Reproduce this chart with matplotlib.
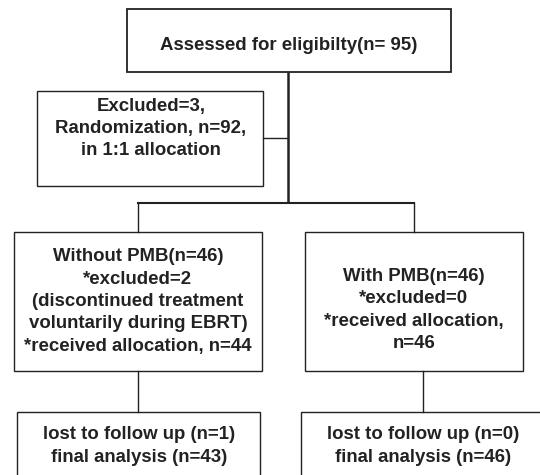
import matplotlib
matplotlib.use('Agg')
from matplotlib import pyplot as plt
from matplotlib.patches import Rectangle

# texts of the flow chart boxes
assessed_text = 'Assessed for eligibilty(n= 95)'
excluded_text = 'Excluded=3,\nRandomization, n=92,\nin 1:1 allocation'
arm_texts = ['Without PMB(n=46)\n*excluded=2\n(discontinued treatment\nvoluntarily during EBRT)\n*received allocation, n=44',
             'With PMB(n=46)\n*excluded=0\n*received allocation,\nn=46']
followup_texts = ['lost to follow up (n=1)\nfinal analysis (n=43)',
                  'lost to follow up (n=0)\nfinal analysis (n=46)']

# layout in pixels: (x0, y0, x1, y1)
box_assessed = (127, 9, 451, 72)
box_excluded = (37, 91, 263, 186)
box_arms = [(14, 232, 262, 371), (305, 232, 523, 371)]
box_follow = [(17, 412, 260, 500), (301, 412, 560, 500)]

col = '#222222'
plt.rcParams['font.family'] = ['Liberation Sans', 'DejaVu Sans']

fig = plt.figure(figsize=(5.4, 4.75), dpi=100)
ax = fig.add_axes([0, 0, 1, 1])
ax.set_xlim(0, 540)
ax.set_ylim(475, 0)
ax.axis('off')


def box(b, lw=1.0):
    x0, y0, x1, y1 = b
    ax.add_patch(Rectangle((x0, y0), x1 - x0, y1 - y0, fill=False, ec=col, lw=lw))


def label(x, y, s):
    ax.text(x, y, s, ha='center', va='center', fontsize=13.4, fontweight='bold',
            color=col, linespacing=1.42)


box(box_assessed, 1.3)
label(289, 45.5, assessed_text)

box(box_excluded)
label(151, 128.5, excluded_text)

# main trunk
ax.plot([288, 288], [72, 203], color=col, lw=1.8, solid_capstyle='butt')
ax.plot([263, 288], [138, 138], color=col, lw=1.0)
ax.plot([138, 414], [203, 203], color=col, lw=1.5, solid_capstyle='projecting')
ax.plot([138, 138], [203, 232], color=col, lw=1.0)
ax.plot([414, 414], [203, 232], color=col, lw=1.0)

for b in box_arms:
    box(b)
label(138, 301.5, arm_texts[0])
label(414, 310, arm_texts[1])

ax.plot([138, 138], [371, 412], color=col, lw=1.0)
ax.plot([423, 423], [371, 412], color=col, lw=1.0)

for b in box_follow:
    box(b)
label(139, 446, followup_texts[0])
label(423, 446, followup_texts[1])

fig.savefig('out.png', dpi=100)
